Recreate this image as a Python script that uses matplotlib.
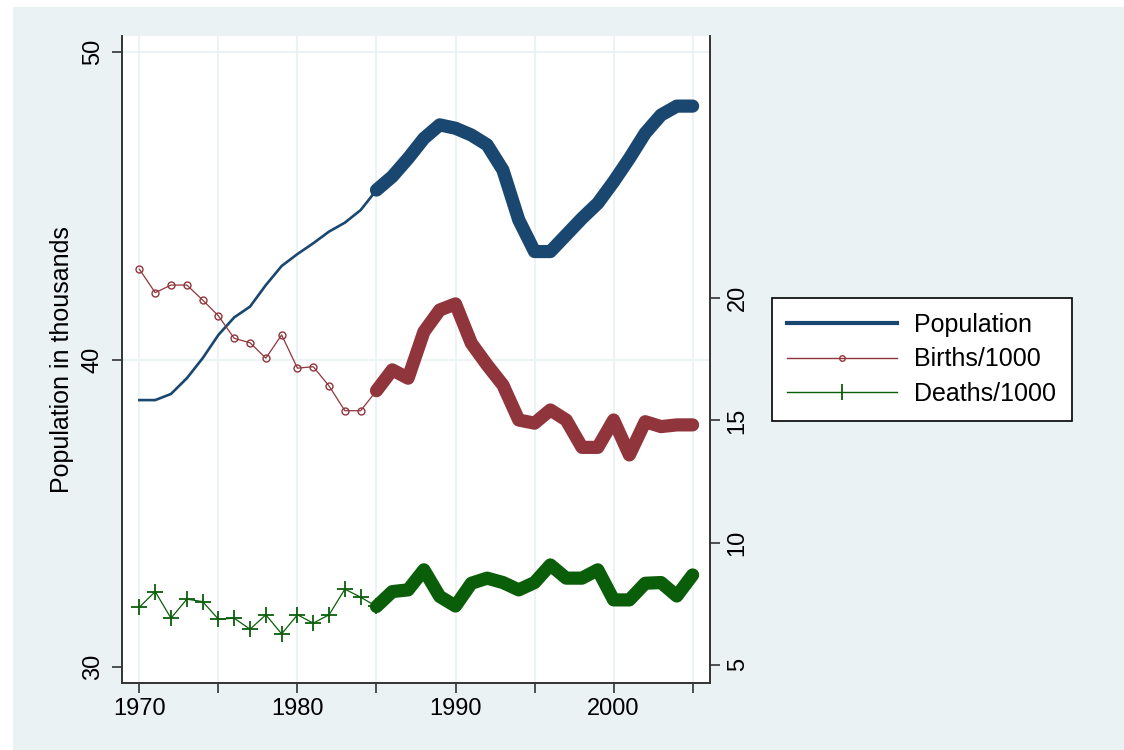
import numpy as np
import matplotlib.pyplot as plt
from matplotlib.lines import Line2D
from matplotlib.patches import Rectangle

plt.rcParams['font.family'] = ['Liberation Sans', 'DejaVu Sans']

years = np.arange(1970, 2006)

# population in thousands (left axis)
population = [38.68, 38.68, 38.88, 39.39, 40.04, 40.80, 41.37, 41.72, 42.42, 43.04,
              43.43, 43.78, 44.16, 44.45, 44.86, 45.51, 45.95, 46.54, 47.19, 47.63,
              47.52, 47.30, 46.98, 46.16, 44.54, 43.51, 43.51, 44.05, 44.59, 45.08,
              45.78, 46.54, 47.36, 47.95, 48.24, 48.24]

# rates per 1000 (right axis)
births = [21.19, 20.23, 20.54, 20.54, 19.93, 19.28, 18.36, 18.18, 17.55, 18.50,
          17.14, 17.20, 16.41, 15.40, 15.40, 16.22, 17.07, 16.73, 18.63, 19.52,
          19.77, 18.16, 17.27, 16.45, 15.02, 14.89, 15.43, 15.02, 13.90, 13.90,
          15.02, 13.59, 14.95, 14.75, 14.82, 14.82]

deaths = [7.36, 8.00, 6.91, 7.69, 7.59, 6.87, 6.91, 6.46, 7.05, 6.27,
          7.05, 6.71, 7.05, 8.10, 7.77, 7.39, 8.00, 8.07, 8.89, 7.80,
          7.41, 8.34, 8.55, 8.37, 8.07, 8.37, 9.09, 8.55, 8.55, 8.89,
          7.66, 7.66, 8.34, 8.37, 7.82, 8.68]

navy = '#1a476f'
maroon = '#90353b'
green = '#0a5e0a'
bg = '#eaf2f3'

W, H = 1124, 750
fig = plt.figure(figsize=(W / 100, H / 100), dpi=100, facecolor='white')
fig.patches.append(Rectangle((13 / W, 0), 1 - 13 / W, 1 - 7 / H, transform=fig.transFigure,
                             facecolor=bg, edgecolor='none', zorder=-10))

ax = fig.add_axes([122 / W, (H - 683) / H, (710 - 122) / W, (683 - 36) / H])
ax.set_facecolor('white')
ax2 = ax.twinx()

split = years <= 1985
late = years >= 1985
pop = np.array(population)
b = np.array(births)
d = np.array(deaths)

# early years: thin lines with markers, later years: heavy lines
ax.plot(years[split], pop[split], color=navy, lw=1.9, zorder=3)
ax.plot(years[late], pop[late], color=navy, lw=9.5, solid_capstyle='round',
        solid_joinstyle='round', zorder=3)

ax2.plot(years[split], b[split], color=maroon, lw=0.9, marker='o', ms=5,
         mfc='none', mec=maroon, mew=1.0, zorder=3)
ax2.plot(years[late], b[late], color=maroon, lw=9.5, solid_capstyle='round',
         solid_joinstyle='round', zorder=3)

ax2.plot(years[split], d[split], color=green, lw=0.9, marker='+', ms=11,
         mew=1.3, zorder=3)
ax2.plot(years[late], d[late], color=green, lw=9.5, solid_capstyle='round',
         solid_joinstyle='round', zorder=3)

ax.set_xlim(1968.9, 2006.1)
ax.set_ylim(29.48, 50.52)
ax2.set_ylim(4.26, 30.73)

ax.set_xticks([1970, 1980, 1990, 2000])
ax.set_xticks(np.arange(1970, 2006, 5), minor=True)
ax.set_yticks([30, 40, 50])
ax2.set_yticks([5, 10, 15, 20])

for x in np.arange(1970, 2006, 5):
    ax.axvline(x, color=bg, lw=1.3, zorder=1)
for y in [40, 50]:
    ax.axhline(y, color=bg, lw=1.3, zorder=1)

spine_col = '#333333'
for a in (ax, ax2):
    a.spines['top'].set_visible(False)
    for s in a.spines.values():
        s.set_color(spine_col)
        s.set_linewidth(1.4)
ax.spines['right'].set_visible(False)
ax2.spines['left'].set_visible(False)
ax2.spines['bottom'].set_visible(False)

ax.tick_params(axis='x', which='both', length=7, width=1.2, color=spine_col,
               labelsize=17, pad=4)
ax.tick_params(axis='y', length=7, width=1.2, color=spine_col, labelsize=17, pad=6)
ax2.tick_params(axis='y', length=7, width=1.2, color=spine_col, labelsize=17, pad=5)
for lab in ax.get_yticklabels():
    lab.set_rotation(90)
    lab.set_va('center')
for lab in ax2.get_yticklabels():
    lab.set_rotation(90)
    lab.set_va('center')

ax.set_ylabel('Population in thousands', fontsize=18, labelpad=6)

handles = [
    Line2D([], [], color=navy, lw=3),
    Line2D([], [], color=maroon, lw=1, marker='o', ms=4, mfc='none', mec=maroon),
    Line2D([], [], color=green, lw=1, marker='|', ms=12, mew=1.3),
]
leg = fig.legend(handles, ['Population', 'Births/1000', 'Deaths/1000'],
                 loc='upper left', bbox_to_anchor=(772 / W, 1 - 298 / H),
                 fontsize=18, frameon=True, fancybox=False, handlelength=4.4,
                 handletextpad=0.7, borderpad=0.6, labelspacing=0.42,
                 borderaxespad=0)
leg.get_frame().set_edgecolor('black')
leg.get_frame().set_linewidth(1.2)
leg.get_frame().set_alpha(1)

fig.savefig('out.png', dpi=100, facecolor=fig.get_facecolor())
